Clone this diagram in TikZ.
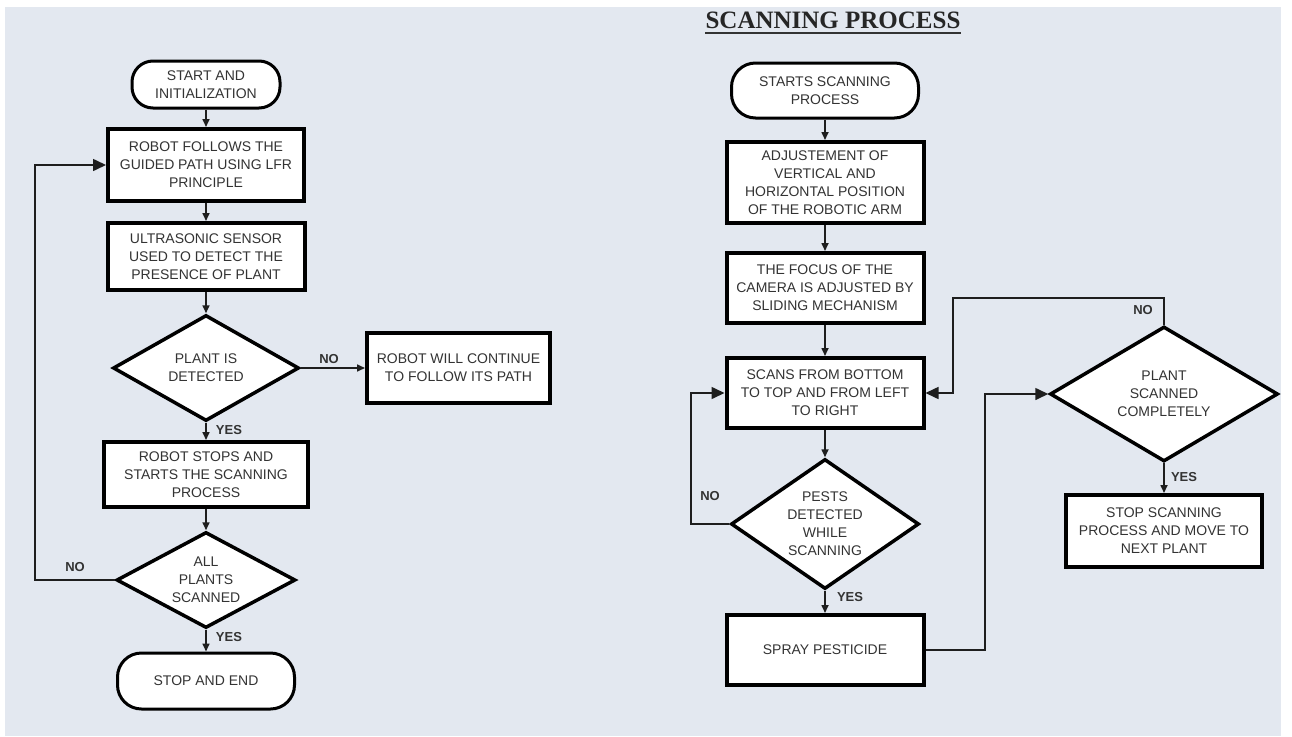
\documentclass[tikz,border=0pt]{standalone}
\usepackage{fontspec}
\setmainfont{Liberation Sans}
\newfontfamily\titlefont{Liberation Serif}
\usetikzlibrary{shapes.geometric,arrows.meta}
\definecolor{bg}{HTML}{E3E8F0}
\definecolor{txt}{HTML}{333333}
\definecolor{ln}{HTML}{1E1E1E}
\begin{document}
\begin{tikzpicture}[x=1pt,y=-1pt,
  base/.style={draw=black, fill=white, text=txt, align=center, inner sep=0pt,
    font=\fontsize{14}{18}\selectfont},
  procbox/.style={base, rectangle, line width=4pt},
  termbox/.style={base, rectangle, rounded corners=21pt, line width=3pt},
  decbox/.style={draw=black, fill=white, diamond, line width=3.5pt, inner sep=0pt},
  dectext/.style={text=txt, align=center, inner sep=0pt, font=\fontsize{14}{18}\selectfont},
  flow/.style={line width=1.6pt, draw=ln, -{Triangle[length=8pt,width=7pt]}},
  sideflow/.style={line width=1.6pt, draw=ln, -{Triangle[length=13pt,width=12pt]}},
  lbl/.style={font=\bfseries\fontsize{13}{13}\selectfont, text=txt, inner sep=0pt}]
\useasboundingbox (0,0) rectangle (1292,736);
\fill[white] (0,0) rectangle (1292,736);
\fill[bg] (5,7) rectangle (1281,736);

% ---------- left flowchart ----------
\node[termbox, minimum width=148pt, minimum height=47pt] (ls) at (206,84.5) {START AND\\INITIALIZATION};
\node[procbox, minimum width=196pt, minimum height=72pt] (l1) at (206,165) {ROBOT FOLLOWS THE\\GUIDED PATH USING LFR\\PRINCIPLE};
\node[procbox, minimum width=197pt, minimum height=67pt] (l2) at (206,256.5) {ULTRASONIC SENSOR\\USED TO DETECT THE\\PRESENCE OF PLANT};
\node[decbox, minimum width=186pt, minimum height=106pt,
  label={[dectext]center:PLANT IS\\DETECTED}] (ld1) at (206,368) {};
\node[procbox, minimum width=183pt, minimum height=70pt] (lno) at (458.5,368) {ROBOT WILL CONTINUE\\TO FOLLOW ITS PATH};
\node[procbox, minimum width=204pt, minimum height=65pt] (l3) at (206,474.5) {ROBOT STOPS AND\\STARTS THE SCANNING\\PROCESS};
\node[decbox, minimum width=179pt, minimum height=96pt,
  label={[dectext]center:ALL\\PLANTS\\SCANNED}] (ld2) at (206,580) {};
\node[termbox, minimum width=177pt, minimum height=56pt, rounded corners=24pt] (le) at (206,681) {STOP AND END};
\coordinate (lc) at (35,580);

\draw[flow] (ls) -- (l1);
\draw[flow] (l1) -- (l2);
\draw[flow] (l2) -- (ld1);
\draw[flow] (ld1.east) -- (lno.west);
\draw[flow] (ld1.south) -- (l3.north);
\draw[flow] (l3) -- (ld2);
\draw[flow] (ld2.south) -- (le.north);
\draw[sideflow] (ld2.west) -- (lc) |- (l1.west);

\node[lbl] (lnoa) at (329,359) {NO};
\node[lbl] (lyesa) at (229,430) {YES};
\node[lbl] (lnob) at (75,567) {NO};
\node[lbl] (lyesb) at (229,637) {YES};

% ---------- right flowchart ----------
\node[font=\titlefont\bfseries\fontsize{25}{25}\selectfont, text=black!85, inner sep=0pt, anchor=base] (title) at (833,28.5) {SCANNING PROCESS};
\draw[line width=2pt, black!80] ([yshift=-4pt]title.base west) -- ([yshift=-4pt]title.base east);

\node[termbox, minimum width=187pt, minimum height=55pt, rounded corners=24pt] (rs) at (825,90.5) {STARTS SCANNING\\PROCESS};
\node[procbox, minimum width=197pt, minimum height=81pt] (r1) at (825,182.5) {ADJUSTEMENT OF\\VERTICAL AND\\HORIZONTAL POSITION\\OF THE ROBOTIC ARM};
\node[procbox, minimum width=197pt, minimum height=70pt] (r2) at (825,288) {THE FOCUS OF THE\\CAMERA IS ADJUSTED BY\\SLIDING MECHANISM};
\node[procbox, minimum width=197pt, minimum height=70pt] (r3) at (825,393) {SCANS FROM BOTTOM\\TO TOP AND FROM LEFT\\TO RIGHT};
\node[decbox, minimum width=188pt, minimum height=130pt,
  label={[dectext]center:PESTS\\DETECTED\\WHILE\\SCANNING}] (rd1) at (825,524) {};
\node[procbox, minimum width=197pt, minimum height=70pt] (r4) at (825,650) {SPRAY PESTICIDE};
\node[decbox, minimum width=228pt, minimum height=135pt,
  label={[dectext]center:PLANT\\SCANNED\\COMPLETELY}] (rd2) at (1164,394) {};
\node[procbox, minimum width=196pt, minimum height=72pt] (r5) at (1164,531) {STOP SCANNING\\PROCESS AND MOVE TO\\NEXT PLANT};
\coordinate (rc1) at (691,524);
\coordinate (rc2) at (985,650);
\coordinate (rc3) at (953,298);

\draw[flow] (rs) -- (r1);
\draw[flow] (r1) -- (r2);
\draw[flow] (r2) -- (r3);
\draw[flow] (r3) -- (rd1);
\draw[flow] (rd1.south) -- (r4.north);
\draw[sideflow] (rd1.west) -- (rc1) |- (r3.west);
\draw[sideflow] (r4.east) -- (rc2) |- (rd2.west);
\draw[sideflow] (rd2.north) |- (rc3) |- (r3.east);
\draw[flow] (rd2.south) -- (r5.north);

\node[lbl] (rnoa) at (1143,310) {NO};
\node[lbl] (rnob) at (710,496) {NO};
\node[lbl] (ryesa) at (850,597) {YES};
\node[lbl] (ryesb) at (1184,477) {YES};
\end{tikzpicture}
\end{document}
